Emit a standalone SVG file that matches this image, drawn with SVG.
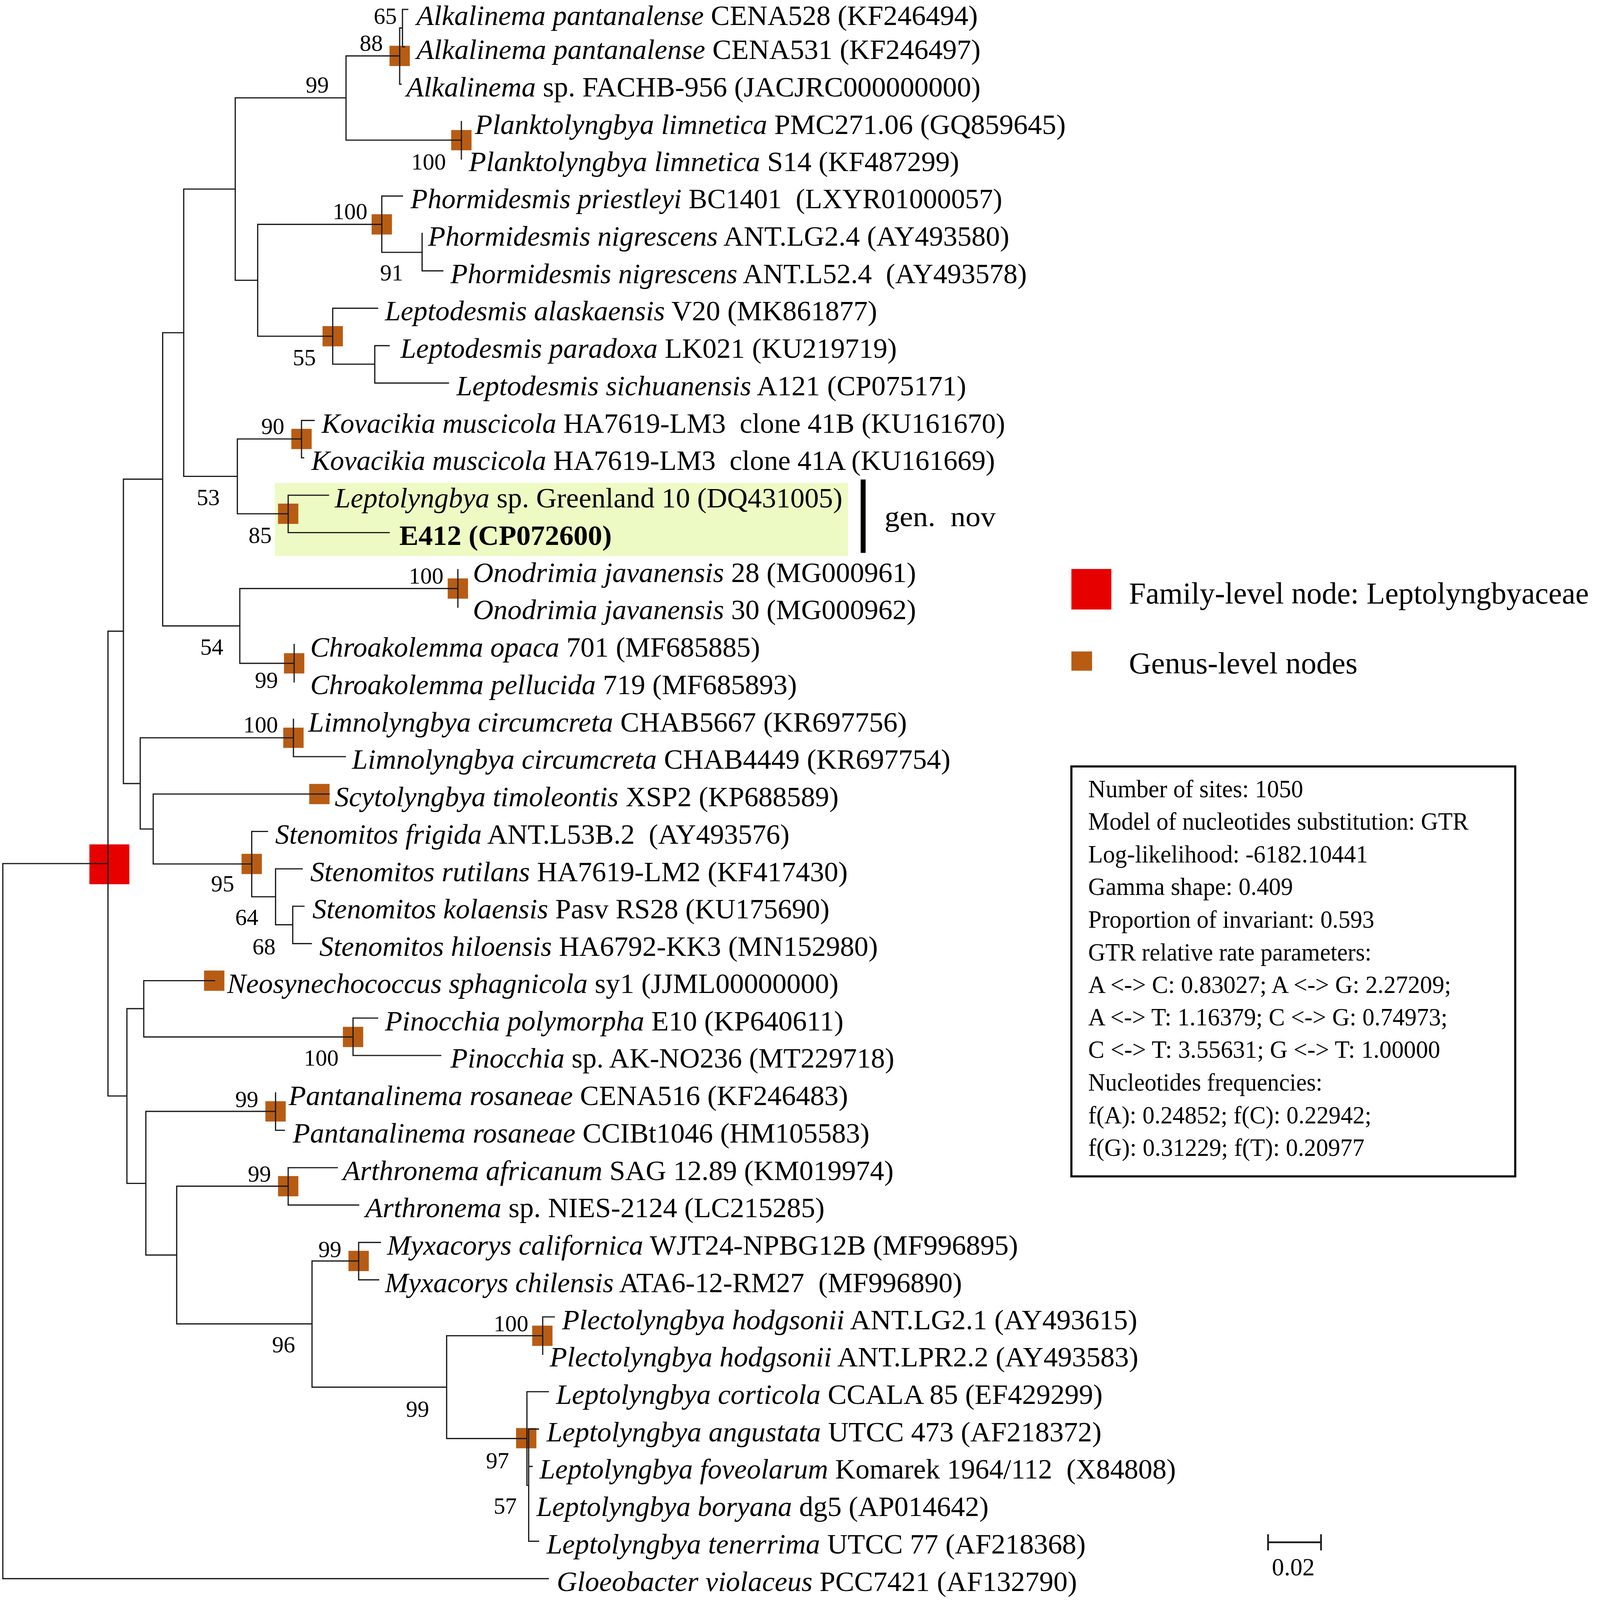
<svg xmlns="http://www.w3.org/2000/svg" width="4562" height="4578" viewBox="0 0 4562 4578">
<style>
.br{stroke:#1c1c1c;stroke-width:3.5;fill:none;stroke-linecap:square}
.lf{font-family:"Liberation Serif","Times New Roman",serif;font-size:80px;fill:#000}
.it{font-style:italic}
.bs{font-family:"Liberation Serif","Times New Roman",serif;font-size:66px;fill:#000}
.gs{fill:#B85C14}
.bx{font-family:"Liberation Serif","Times New Roman",serif;font-size:70px;fill:#000}
.lg{font-family:"Liberation Serif","Times New Roman",serif;font-size:87px;fill:#000}
</style>
<rect width="4562" height="4578" fill="#fff"/>
<g transform="scale(0.8975 0.8947)">
<g id="highlight"><rect x="784" y="1382" width="1635" height="209" fill="#EEFAC3"/></g>
<g id="family-node"><rect x="255" y="2416" width="114" height="114" fill="#E60000"/></g>
<g id="genus-nodes">
<rect class="gs" x="1111" y="131" width="58" height="58"/>
<rect class="gs" x="1287" y="372" width="58" height="58"/>
<rect class="gs" x="1060" y="613" width="58" height="58"/>
<rect class="gs" x="920" y="933" width="58" height="58"/>
<rect class="gs" x="831" y="1227" width="58" height="58"/>
<rect class="gs" x="793" y="1441" width="58" height="58"/>
<rect class="gs" x="1277" y="1655" width="58" height="58"/>
<rect class="gs" x="810" y="1869" width="58" height="58"/>
<rect class="gs" x="808" y="2082" width="58" height="58"/>
<rect class="gs" x="882" y="2243" width="58" height="58"/>
<rect class="gs" x="689" y="2443" width="58" height="58"/>
<rect class="gs" x="582" y="2777" width="58" height="58"/>
<rect class="gs" x="978" y="2938" width="58" height="58"/>
<rect class="gs" x="757" y="3151" width="58" height="58"/>
<rect class="gs" x="793" y="3365" width="58" height="58"/>
<rect class="gs" x="994" y="3579" width="58" height="58"/>
<rect class="gs" x="1518" y="3793" width="58" height="58"/>
<rect class="gs" x="1472" y="4086" width="58" height="58"/>
</g>
<g id="branches">
<path class="br" d="M8 2471V4517M8 2471H308M8 4517H1564
M308 1806V3136M308 1806H352M308 3136H362
M352 1371V2242M352 1371H464M352 2242H400
M464 952V1791M464 952H524M464 1791H684
M524 541V1363M524 541H671M524 1363H677
M671 280V802M671 280H987M671 802H735
M987 160V401M987 160H1140M987 401H1316
M1140 80V241M1140 80H1148M1140 241H1144
M1148 27V134M1148 27H1163M1148 134H1154
M1316 348V455
M735 642V962M735 642H1089M735 962H949
M1089 561V722M1089 561H1148M1089 722H1204
M1204 668V775M1204 775H1263
M949 882V1042M949 882H1077M949 1042H1069
M1069 989V1096M1069 989H1110M1069 1096H1279
M677 1256V1470M677 1256H860M677 1470H822
M860 1203V1310M860 1203H896M860 1310H866
M822 1417V1524M822 1417H937M822 1524H1110
M684 1684V1898M684 1684H1306M684 1898H839
M1306 1630V1737
M839 1844V1951
M400 2111V2372M400 2111H837M400 2372H437
M837 2058V2165M837 2165H985
M437 2272V2472M437 2272H939M437 2472H718
M718 2379V2566M718 2379H763M718 2566H786
M786 2486V2646M786 2486H862M786 2646H835
M835 2593V2700M835 2593H867M835 2700H888
M362 2886V3386M362 2886H410M362 3386H416
M410 2806V2967M410 2806H612M410 2967H1007
M1007 2913V3020M1007 2913H1077M1007 3020H1257
M416 3180V3591M416 3180H786M416 3591H504
M786 3127V3234M786 3234H811
M504 3394V3788M504 3394H822M504 3788H890
M822 3341V3448M822 3341H962M822 3448H1023
M890 3608V3969M890 3608H1023M890 3969H1274
M1023 3555V3662M1023 3555H1085M1023 3662H1080
M1274 3822V4116M1274 3822H1548M1274 4116H1503
M1548 3768V3875M1548 3768H1581
M1503 3982V4250M1503 3982H1564M1503 4250H1508
M1508 4089V4410M1508 4089H1536M1508 4196H1518M1508 4410H1536"/>
</g>
<g id="leaves">
<g id="leaf-01"><text class="lf" x="1188" y="71" textLength="1601" lengthAdjust="spacingAndGlyphs"><tspan class="it">Alkalinema pantanalense</tspan> CENA528 (KF246494)</text></g>
<g id="leaf-02"><text class="lf" x="1188" y="169" textLength="1609" lengthAdjust="spacingAndGlyphs"><tspan class="it">Alkalinema pantanalense</tspan> CENA531 (KF246497)</text></g>
<g id="leaf-03"><text class="lf" x="1159" y="276" textLength="1638" lengthAdjust="spacingAndGlyphs"><tspan class="it">Alkalinema</tspan> sp. FACHB-956 (JACJRC000000000)</text></g>
<g id="leaf-04"><text class="lf" x="1355" y="383" textLength="1685" lengthAdjust="spacingAndGlyphs"><tspan class="it">Planktolyngbya limnetica</tspan> PMC271.06 (GQ859645)</text></g>
<g id="leaf-05"><text class="lf" x="1337" y="490" textLength="1399" lengthAdjust="spacingAndGlyphs"><tspan class="it">Planktolyngbya limnetica</tspan> S14 (KF487299)</text></g>
<g id="leaf-06"><text class="lf" x="1171" y="596" textLength="1688" lengthAdjust="spacingAndGlyphs"><tspan class="it">Phormidesmis priestleyi</tspan> BC1401&#160; (LXYR01000057)</text></g>
<g id="leaf-07"><text class="lf" x="1221" y="703" textLength="1658" lengthAdjust="spacingAndGlyphs"><tspan class="it">Phormidesmis nigrescens</tspan> ANT.LG2.4 (AY493580)</text></g>
<g id="leaf-08"><text class="lf" x="1285" y="810" textLength="1644" lengthAdjust="spacingAndGlyphs"><tspan class="it">Phormidesmis nigrescens</tspan> ANT.L52.4&#160; (AY493578)</text></g>
<g id="leaf-09"><text class="lf" x="1098" y="917" textLength="1404" lengthAdjust="spacingAndGlyphs"><tspan class="it">Leptodesmis alaskaensis</tspan> V20 (MK861877)</text></g>
<g id="leaf-10"><text class="lf" x="1142" y="1024" textLength="1416" lengthAdjust="spacingAndGlyphs"><tspan class="it">Leptodesmis paradoxa</tspan> LK021 (KU219719)</text></g>
<g id="leaf-11"><text class="lf" x="1302" y="1131" textLength="1454" lengthAdjust="spacingAndGlyphs"><tspan class="it">Leptodesmis sichuanensis</tspan> A121 (CP075171)</text></g>
<g id="leaf-12"><text class="lf" x="917" y="1238" textLength="1950" lengthAdjust="spacingAndGlyphs"><tspan class="it">Kovacikia muscicola</tspan> HA7619-LM3&#160; clone 41B (KU161670)</text></g>
<g id="leaf-13"><text class="lf" x="888" y="1345" textLength="1950" lengthAdjust="spacingAndGlyphs"><tspan class="it">Kovacikia muscicola</tspan> HA7619-LM3&#160; clone 41A (KU161669)</text></g>
<g id="leaf-14"><text class="lf" x="955" y="1452" textLength="1448" lengthAdjust="spacingAndGlyphs"><tspan class="it">Leptolyngbya</tspan> sp. Greenland 10 (DQ431005)</text></g>
<g id="leaf-15"><text class="lf" x="1139" y="1559" textLength="606" lengthAdjust="spacingAndGlyphs" font-weight="bold">E412 (CP072600)</text></g>
<g id="leaf-16"><text class="lf" x="1349" y="1665" textLength="1264" lengthAdjust="spacingAndGlyphs"><tspan class="it">Onodrimia javanensis</tspan> 28 (MG000961)</text></g>
<g id="leaf-17"><text class="lf" x="1349" y="1772" textLength="1264" lengthAdjust="spacingAndGlyphs"><tspan class="it">Onodrimia javanensis</tspan> 30 (MG000962)</text></g>
<g id="leaf-18"><text class="lf" x="885" y="1879" textLength="1283" lengthAdjust="spacingAndGlyphs"><tspan class="it">Chroakolemma opaca</tspan> 701 (MF685885)</text></g>
<g id="leaf-19"><text class="lf" x="885" y="1986" textLength="1388" lengthAdjust="spacingAndGlyphs"><tspan class="it">Chroakolemma pellucida</tspan> 719 (MF685893)</text></g>
<g id="leaf-20"><text class="lf" x="879" y="2093" textLength="1708" lengthAdjust="spacingAndGlyphs"><tspan class="it">Limnolyngbya circumcreta</tspan> CHAB5667 (KR697756)</text></g>
<g id="leaf-21"><text class="lf" x="1004" y="2200" textLength="1707" lengthAdjust="spacingAndGlyphs"><tspan class="it">Limnolyngbya circumcreta</tspan> CHAB4449 (KR697754)</text></g>
<g id="leaf-22"><text class="lf" x="955" y="2307" textLength="1437" lengthAdjust="spacingAndGlyphs"><tspan class="it">Scytolyngbya timoleontis</tspan> XSP2 (KP688589)</text></g>
<g id="leaf-23"><text class="lf" x="785" y="2414" textLength="1467" lengthAdjust="spacingAndGlyphs"><tspan class="it">Stenomitos frigida</tspan> ANT.L53B.2&#160; (AY493576)</text></g>
<g id="leaf-24"><text class="lf" x="885" y="2521" textLength="1533" lengthAdjust="spacingAndGlyphs"><tspan class="it">Stenomitos rutilans</tspan> HA7619-LM2 (KF417430)</text></g>
<g id="leaf-25"><text class="lf" x="891" y="2628" textLength="1475" lengthAdjust="spacingAndGlyphs"><tspan class="it">Stenomitos kolaensis</tspan> Pasv RS28 (KU175690)</text></g>
<g id="leaf-26"><text class="lf" x="911" y="2735" textLength="1593" lengthAdjust="spacingAndGlyphs"><tspan class="it">Stenomitos hiloensis</tspan> HA6792-KK3 (MN152980)</text></g>
<g id="leaf-27"><text class="lf" x="648" y="2841" textLength="1744" lengthAdjust="spacingAndGlyphs"><tspan class="it">Neosynechococcus sphagnicola</tspan> sy1 (JJML00000000)</text></g>
<g id="leaf-28"><text class="lf" x="1098" y="2948" textLength="1308" lengthAdjust="spacingAndGlyphs"><tspan class="it">Pinocchia polymorpha</tspan> E10 (KP640611)</text></g>
<g id="leaf-29"><text class="lf" x="1285" y="3055" textLength="1266" lengthAdjust="spacingAndGlyphs"><tspan class="it">Pinocchia</tspan> sp. AK-NO236 (MT229718)</text></g>
<g id="leaf-30"><text class="lf" x="823" y="3162" textLength="1596" lengthAdjust="spacingAndGlyphs"><tspan class="it">Pantanalinema rosaneae</tspan> CENA516 (KF246483)</text></g>
<g id="leaf-31"><text class="lf" x="835" y="3269" textLength="1645" lengthAdjust="spacingAndGlyphs"><tspan class="it">Pantanalinema rosaneae</tspan> CCIBt1046 (HM105583)</text></g>
<g id="leaf-32"><text class="lf" x="978" y="3376" textLength="1571" lengthAdjust="spacingAndGlyphs"><tspan class="it">Arthronema africanum</tspan> SAG 12.89 (KM019974)</text></g>
<g id="leaf-33"><text class="lf" x="1042" y="3483" textLength="1310" lengthAdjust="spacingAndGlyphs"><tspan class="it">Arthronema</tspan> sp. NIES-2124 (LC215285)</text></g>
<g id="leaf-34"><text class="lf" x="1104" y="3590" textLength="1800" lengthAdjust="spacingAndGlyphs"><tspan class="it">Myxacorys californica</tspan> WJT24-NPBG12B (MF996895)</text></g>
<g id="leaf-35"><text class="lf" x="1098" y="3697" textLength="1646" lengthAdjust="spacingAndGlyphs"><tspan class="it">Myxacorys chilensis</tspan> ATA6-12-RM27&#160; (MF996890)</text></g>
<g id="leaf-36"><text class="lf" x="1603" y="3803" textLength="1641" lengthAdjust="spacingAndGlyphs"><tspan class="it">Plectolyngbya hodgsonii</tspan> ANT.LG2.1 (AY493615)</text></g>
<g id="leaf-37"><text class="lf" x="1568" y="3910" textLength="1679" lengthAdjust="spacingAndGlyphs"><tspan class="it">Plectolyngbya hodgsonii</tspan> ANT.LPR2.2 (AY493583)</text></g>
<g id="leaf-38"><text class="lf" x="1586" y="4017" textLength="1559" lengthAdjust="spacingAndGlyphs"><tspan class="it">Leptolyngbya corticola</tspan> CCALA 85 (EF429299)</text></g>
<g id="leaf-39"><text class="lf" x="1559" y="4124" textLength="1583" lengthAdjust="spacingAndGlyphs"><tspan class="it">Leptolyngbya angustata</tspan> UTCC 473 (AF218372)</text></g>
<g id="leaf-40"><text class="lf" x="1539" y="4231" textLength="1815" lengthAdjust="spacingAndGlyphs"><tspan class="it">Leptolyngbya foveolarum</tspan> Komarek 1964/112&#160; (X84808)</text></g>
<g id="leaf-41"><text class="lf" x="1530" y="4338" textLength="1290" lengthAdjust="spacingAndGlyphs"><tspan class="it">Leptolyngbya boryana</tspan> dg5 (AP014642)</text></g>
<g id="leaf-42"><text class="lf" x="1559" y="4445" textLength="1538" lengthAdjust="spacingAndGlyphs"><tspan class="it">Leptolyngbya tenerrima</tspan> UTCC 77 (AF218368)</text></g>
<g id="leaf-43"><text class="lf" x="1588" y="4552" textLength="1484" lengthAdjust="spacingAndGlyphs"><tspan class="it">Gloeobacter violaceus</tspan> PCC7421 (AF132790)</text></g>
</g>
<g id="bootstrap">
<text class="bs" x="1066" y="68">65</text>
<text class="bs" x="1026" y="145">88</text>
<text class="bs" x="872" y="265">99</text>
<text class="bs" x="1173" y="485">100</text>
<text class="bs" x="949" y="627">100</text>
<text class="bs" x="1084" y="802">91</text>
<text class="bs" x="835" y="1045">55</text>
<text class="bs" x="745" y="1242">90</text>
<text class="bs" x="561" y="1445">53</text>
<text class="bs" x="709" y="1554">85</text>
<text class="bs" x="1166" y="1670">100</text>
<text class="bs" x="571" y="1873">54</text>
<text class="bs" x="727" y="1968">99</text>
<text class="bs" x="694" y="2096">100</text>
<text class="bs" x="602" y="2551">95</text>
<text class="bs" x="671" y="2647">64</text>
<text class="bs" x="720" y="2731">68</text>
<text class="bs" x="867" y="3049">100</text>
<text class="bs" x="671" y="3167">99</text>
<text class="bs" x="707" y="3381">99</text>
<text class="bs" x="908" y="3597">99</text>
<text class="bs" x="776" y="3870">96</text>
<text class="bs" x="1408" y="3809">100</text>
<text class="bs" x="1158" y="4054">99</text>
<text class="bs" x="1386" y="4201">97</text>
<text class="bs" x="1408" y="4331">57</text>
</g>
<g id="gen-nov">
<rect x="2455" y="1372" width="14" height="210" fill="#000"/>
<text class="lf" x="2523" y="1506" font-size="82" textLength="317" lengthAdjust="spacingAndGlyphs">gen.&#160; nov</text>
</g>
<g id="legend">
<rect x="3056" y="1628" width="114" height="116" fill="#E60000"/>
<text class="lg" x="3220" y="1727" textLength="1312" lengthAdjust="spacingAndGlyphs">Family-level node: Leptolyngbyaceae</text>
<rect class="gs" x="3056" y="1864" width="59" height="55"/>
<text class="lg" x="3220" y="1927" textLength="652" lengthAdjust="spacingAndGlyphs">Genus-level nodes</text>
</g>
<g id="model-box">
<rect x="3056" y="2193" width="1266" height="1173" fill="none" stroke="#000" stroke-width="6"/>
<text class="bx" x="3104" y="2281" textLength="613" lengthAdjust="spacingAndGlyphs">Number of sites: 1050</text>
<text class="bx" x="3104" y="2374" textLength="1085" lengthAdjust="spacingAndGlyphs">Model of nucleotides substitution: GTR</text>
<text class="bx" x="3104" y="2468" textLength="798" lengthAdjust="spacingAndGlyphs">Log-likelihood: -6182.10441</text>
<text class="bx" x="3104" y="2561" textLength="584" lengthAdjust="spacingAndGlyphs">Gamma shape: 0.409</text>
<text class="bx" x="3104" y="2654" textLength="816" lengthAdjust="spacingAndGlyphs">Proportion of invariant: 0.593</text>
<text class="bx" x="3104" y="2748" textLength="808" lengthAdjust="spacingAndGlyphs">GTR relative rate parameters:</text>
<text class="bx" x="3104" y="2841" textLength="1035" lengthAdjust="spacingAndGlyphs">A &lt;-&gt; C: 0.83027; A &lt;-&gt; G: 2.27209;</text>
<text class="bx" x="3104" y="2934" textLength="1025" lengthAdjust="spacingAndGlyphs">A &lt;-&gt; T: 1.16379; C &lt;-&gt; G: 0.74973;</text>
<text class="bx" x="3104" y="3027" textLength="1004" lengthAdjust="spacingAndGlyphs">C &lt;-&gt; T: 3.55631; G &lt;-&gt; T: 1.00000</text>
<text class="bx" x="3104" y="3121" textLength="668" lengthAdjust="spacingAndGlyphs">Nucleotides frequencies:</text>
<text class="bx" x="3104" y="3214" textLength="808" lengthAdjust="spacingAndGlyphs">f(A): 0.24852; f(C): 0.22942;</text>
<text class="bx" x="3104" y="3307" textLength="788" lengthAdjust="spacingAndGlyphs">f(G): 0.31229; f(T): 0.20977</text>
</g>
<g id="scale-bar">
<path d="M3617 4413H3768M3617 4390V4436M3768 4390V4436" stroke="#1c1c1c" stroke-width="5" fill="none"/>
<text class="bx" x="3628" y="4508" textLength="122" lengthAdjust="spacingAndGlyphs">0.02</text>
</g>
</g>
</svg>
